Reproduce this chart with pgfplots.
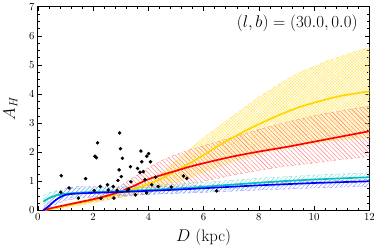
\documentclass[border=0pt]{standalone}
\usepackage{pgfplots}
\pgfplotsset{compat=1.18}
\usepgfplotslibrary{fillbetween}
\usetikzlibrary{patterns.meta}
\definecolor{cgold}{RGB}{255,215,0}
\definecolor{ccyan}{RGB}{0,191,191}
\definecolor{cblue}{RGB}{0,0,255}
\definecolor{cred}{RGB}{255,0,0}
\begin{document}
\begin{tikzpicture}
\begin{axis}[
  scale only axis,
  width=337bp, height=207bp,
  xmin=0, xmax=12, ymin=0, ymax=7,
  xtick={0,2,...,12}, ytick={0,1,...,7},
  minor x tick num=4, minor y tick num=3,
  tick align=inside, tick pos=both,
  major tick length=4bp, minor tick length=2bp,
  axis line style={line width=0.8bp},
  every tick/.style={black, line width=0.5bp},
  tick label style={font=\fontsize{11}{12}\selectfont},
  label style={font=\fontsize{17}{19}\selectfont},
  xlabel={$D$ (kpc)}, ylabel={$A_H$},
  xlabel style={yshift=-2bp},
  ylabel style={yshift=5bp},
  clip=true,
]
% yellow band
\addplot[draw=cgold!60, dashed, line width=0.4bp, name path=yu] coordinates {(0.2,0) (1,0.2) (2,0.42) (3,0.68) (3.5,0.82) (4,1.0) (4.5,1.3) (5,1.7) (5.5,2.1) (6,2.5) (6.5,2.85) (7,3.2) (7.5,3.55) (8,3.9) (8.5,4.2) (9,4.5) (9.5,4.75) (10,4.95) (10.5,5.15) (11,5.3) (11.5,5.47) (12,5.6)};
\addplot[draw=cgold!60, dashed, line width=0.4bp, name path=yl] coordinates {(0.2,0) (1,0.1) (2,0.25) (3,0.45) (4,0.65) (5,0.95) (6,1.3) (7,1.65) (8,1.95) (9,2.15) (10,2.3) (11,2.42) (12,2.5)};
\addplot[pattern={Hatch[angle=45,distance=2.2bp,line width=0.3bp]}, pattern color=cgold!65] fill between[of=yu and yl];
% red band
\addplot[draw=cred!45, dashed, line width=0.4bp, name path=ru] coordinates {(0.2,0) (1,0.2) (2,0.42) (2.5,0.6) (3,0.85) (3.5,1.15) (4,1.47) (4.5,1.72) (5,1.92) (5.5,2.08) (6,2.22) (7,2.5) (8,2.78) (9,3.03) (10,3.25) (11,3.43) (12,3.58)};
\addplot[draw=cred!45, dashed, line width=0.4bp, name path=rl] coordinates {(0.2,0) (1,0.15) (2,0.3) (3,0.45) (4,0.62) (5,0.82) (6,1.0) (7,1.2) (8,1.38) (9,1.52) (10,1.63) (11,1.75) (12,1.85)};
\addplot[pattern={Lines[angle=-45,distance=3.2bp,line width=0.4bp]}, pattern color=cred!55] fill between[of=ru and rl];
% cyan band
\addplot[draw=ccyan!55, dashed, line width=0.4bp, name path=cu] coordinates {(0.2,0.5) (0.4,0.6) (0.7,0.68) (1,0.72) (1.5,0.76) (2,0.78) (3,0.81) (4,0.85) (5,0.9) (6,0.96) (7,1.03) (8,1.1) (9,1.16) (10,1.21) (11,1.25) (12,1.29)};
\addplot[draw=ccyan!55, dashed, line width=0.4bp, name path=cl] coordinates {(0.2,0.15) (0.4,0.26) (0.7,0.36) (1,0.42) (1.5,0.46) (2,0.48) (3,0.51) (4,0.55) (5,0.6) (6,0.66) (7,0.73) (8,0.8) (9,0.86) (10,0.91) (11,0.95) (12,0.99)};
\addplot[pattern={Lines[angle=45,distance=3bp,line width=0.4bp]}, pattern color=ccyan!55] fill between[of=cu and cl];
% blue band
\addplot[draw=cblue!45, dashed, line width=0.4bp, name path=bu] coordinates {(0.2,0.05) (0.5,0.45) (1,0.75) (1.5,0.82) (2,0.82) (3,0.8) (4,0.8) (6,0.86) (8,0.94) (10,1.0) (12,1.06)};
\addplot[draw=cblue!45, dashed, line width=0.4bp, name path=bl] coordinates {(0.2,0) (0.5,0.15) (1,0.35) (1.5,0.42) (2,0.45) (3,0.5) (4,0.55) (6,0.62) (8,0.7) (10,0.77) (12,0.83)};
\addplot[pattern={Lines[angle=45,distance=3bp,line width=0.4bp]}, pattern color=cblue!45] fill between[of=bu and bl];
% lines
\addplot[cgold, line width=1.7bp, smooth] coordinates {(0.2,0) (0.5,0.05) (1,0.15) (1.5,0.25) (2,0.35) (2.5,0.47) (3,0.6) (3.5,0.74) (4,0.9) (4.5,1.1) (5,1.35) (5.5,1.62) (6,1.9) (6.5,2.2) (7,2.47) (7.5,2.73) (8,2.96) (8.5,3.18) (9,3.38) (9.5,3.56) (10,3.7) (10.5,3.83) (11,3.94) (11.5,4.02) (12,4.09)};
\addplot[cred, line width=1.7bp, smooth] coordinates {(0.2,0) (0.5,0.08) (1,0.18) (1.5,0.28) (2,0.38) (2.5,0.5) (3,0.65) (3.5,0.85) (4,1.07) (4.5,1.22) (5,1.36) (5.5,1.5) (6,1.62) (7,1.84) (8,2.02) (9,2.18) (10,2.36) (11,2.54) (12,2.72)};
\addplot[ccyan, line width=1.7bp, smooth] coordinates {(0.2,0.3) (0.4,0.42) (0.7,0.52) (1,0.57) (1.5,0.61) (2,0.63) (3,0.66) (4,0.7) (5,0.75) (6,0.81) (7,0.88) (8,0.95) (9,1.01) (10,1.06) (11,1.1) (12,1.14)};
\addplot[cblue, line width=1.7bp, smooth] coordinates {(0.2,0) (0.4,0.15) (0.6,0.32) (0.8,0.45) (1,0.53) (1.3,0.57) (2,0.6) (3,0.63) (4,0.67) (5,0.71) (6,0.76) (7,0.81) (8,0.86) (9,0.9) (10,0.94) (11,0.97) (12,1.0)};
% data points
\addplot[only marks, mark=*, mark size=1.6bp, black] coordinates {
(0.85,1.19) (0.83,0.62) (1.13,0.77) (1.73,1.09) (1.47,0.42) (2.16,2.32) (2.07,1.86) (2.12,1.81) (2.04,0.68) (2.26,0.82) (2.28,0.41) (2.52,0.88) (2.55,0.70) (2.73,0.82) (2.75,0.42) (2.96,2.66) (2.99,2.12) (3.06,1.79) (2.94,1.39) (3.02,1.16) (2.90,1.03) (2.87,0.69) (3.35,1.50) (3.37,0.98) (3.29,0.73) (3.25,0.69) (3.53,0.53) (3.61,1.44) (3.70,1.31) (3.73,2.04) (3.76,1.67) (3.82,1.33) (3.94,1.86) (4.01,1.95) (4.08,1.67) (3.88,1.05) (3.94,0.60) (4.26,1.14) (4.12,0.88) (4.36,0.82) (4.83,0.80) (5.27,1.18) (5.39,1.10) (6.47,0.67)};
\node[anchor=north east, font=\fontsize{18}{20}\selectfont] at (rel axis cs:0.975,0.975) {$(l,b)=(30.0,0.0)$};
\end{axis}
\path[use as bounding box] ([xshift=-36bp,yshift=-42bp]current axis.south west) rectangle ([xshift=5bp,yshift=4bp]current axis.north east);
\end{tikzpicture}
\end{document}
